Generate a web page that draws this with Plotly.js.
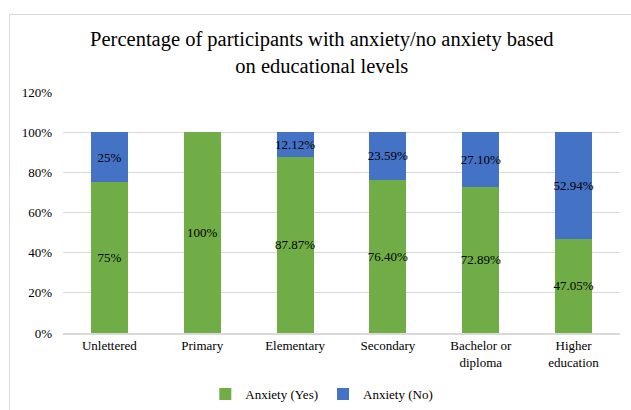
<!DOCTYPE html>
<html>
<head>
<meta charset="utf-8">
<script src="https://cdn.plot.ly/plotly-3.0.1.min.js"></script>
<style>
html,body{margin:0;padding:0;background:#fff;}
#frame{position:absolute;left:9px;top:14px;width:640px;height:420px;border:1px solid #d9d9d9;box-sizing:border-box;pointer-events:none;}
#chart{position:absolute;left:0;top:0;width:631px;height:410px;}
</style>
</head>
<body>
<div id="chart"></div>
<div id="frame"></div>
<script>
const categories = ["Unlettered", "Primary", "Elementary", "Secondary", "Bachelor or<br>diploma", "Higher<br>education"];
const anxietyYes = [75, 100, 87.87, 76.40, 72.89, 47.05];
const anxietyNo = [25, 0, 12.12, 23.59, 27.10, 52.94];
const yesLabels = ["75%", "100%", "87.87%", "76.40%", "72.89%", "47.05%"];
const noLabels = ["25%", "", "12.12%", "23.59%", "27.10%", "52.94%"];
const yTicks = [0, 20, 40, 60, 80, 100, 120];

const FONT = "Times New Roman";

const traces = [
  {
    type: "bar", name: "Anxiety (Yes)", x: categories, y: anxietyYes,
    text: yesLabels, textposition: "inside", insidetextanchor: "middle",
    constraintext: "none", textangle: 0,
    textfont: {family: FONT, size: 13, color: "#000"},
    marker: {color: "#70AD47"}, hoverinfo: "none"
  },
  {
    type: "bar", name: "Anxiety (No)", x: categories, y: anxietyNo,
    text: noLabels, textposition: "inside", insidetextanchor: "middle",
    constraintext: "none", textangle: 0,
    textfont: {family: FONT, size: 13, color: "#000"},
    marker: {color: "#4472C4"}, hoverinfo: "none"
  }
];

const layout = {
  width: 631, height: 410,
  barmode: "stack", bargap: 0.6,
  paper_bgcolor: "#fff", plot_bgcolor: "#fff",
  margin: {l: 63, r: 11, t: 92, b: 77, autoexpand: false},
  title: {
    text: "Percentage of participants with anxiety/no anxiety based<br>on educational levels",
    font: {family: FONT, size: 20.5, color: "#000"},
    x: 0.51, xanchor: "center", y: 0.888, yanchor: "middle"
  },
  xaxis: {
    type: "category", showgrid: false, showline: true, linecolor: "#d9d9d9", linewidth: 1.5,
    ticks: "", tickfont: {family: FONT, size: 13, color: "#000"}, fixedrange: true, automargin: false
  },
  yaxis: {
    range: [0, 120], tickvals: yTicks, ticktext: yTicks.map(v => v + "%"),
    showgrid: true, gridcolor: "#d9d9d9", gridwidth: 1, zeroline: false, showline: false,
    ticks: "", ticklabelstandoff: 10, automargin: false,
    tickfont: {family: FONT, size: 13, color: "#000"}, fixedrange: true
  },
  showlegend: true,
  legend: {
    orientation: "h", x: 0.51, xanchor: "center", xref: "container",
    y: 0.039, yanchor: "middle", yref: "container",
    font: {family: FONT, size: 13, color: "#000"}, traceorder: "normal",
    itemwidth: 30
  }
};

Plotly.newPlot("chart", traces, layout, {displayModeBar: false, staticPlot: true});
</script>
</body>
</html>
